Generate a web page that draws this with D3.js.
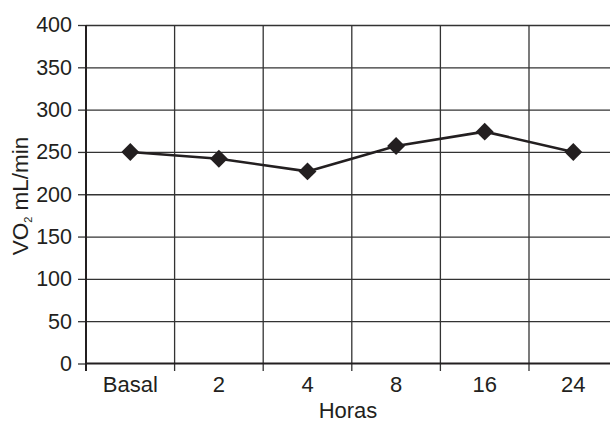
<!DOCTYPE html>
<html>
<head>
<meta charset="utf-8">
<script src="https://cdn.jsdelivr.net/npm/d3@7"></script>
<style>
  html, body { margin: 0; padding: 0; background: #fff; }
  svg { display: block; }
  text { font-family: "Liberation Sans", Arial, Helvetica, sans-serif; fill: #231f20; }
</style>
</head>
<body>
<svg id="chart" width="610" height="422"></svg>
<script>
const categories = ["Basal", "2", "4", "8", "16", "24"];
const vo2Values = [250, 242, 227, 257, 274, 250];
const yTickValues = [0, 50, 100, 150, 200, 250, 300, 350, 400];
const xTitle = "Horas";

const W = 610, H = 422;
const plotLeft = 86, plotTop = 25, plotBottom = 363.5, bandW = 88.6;
const ink = "#231f20";

const svg = d3.select("#chart");

const x = d3.scaleBand().domain(categories).range([plotLeft, plotLeft + bandW * categories.length]).padding(0);
const y = d3.scaleLinear().domain([0, 400]).range([plotBottom, plotTop]);

// horizontal gridlines
svg.append("g")
  .attr("transform", `translate(${plotLeft},0)`)
  .call(d3.axisLeft(y).tickValues(yTickValues.filter(v => v > 0)).tickSize(-(W - plotLeft)).tickFormat(""))
  .call(g => g.select(".domain").remove())
  .call(g => g.selectAll("line").attr("stroke", "#333").attr("stroke-width", 1.3));

// vertical category separators (extending below as ticks)
svg.append("g")
  .selectAll("line")
  .data(categories.slice(1))
  .join("line")
  .attr("x1", d => x(d)).attr("x2", d => x(d))
  .attr("y1", y(400)).attr("y2", y(0) + 7.5)
  .attr("stroke", "#333").attr("stroke-width", 1.3);

// y axis with ticks and labels
svg.append("g")
  .attr("transform", `translate(${plotLeft},0)`)
  .call(d3.axisLeft(y).tickValues(yTickValues).tickSize(8).tickPadding(6))
  .call(g => g.select(".domain").remove())
  .call(g => g.selectAll("line").attr("stroke", "#333").attr("stroke-width", 1.3))
  .call(g => g.selectAll("text").attr("font-size", 21.5).attr("fill", ink)
    .style("font-family", '"Liberation Sans", Arial, sans-serif'));

// left axis line
svg.append("line")
  .attr("x1", plotLeft).attr("x2", plotLeft)
  .attr("y1", y(400)).attr("y2", y(0) + 7.5)
  .attr("stroke", ink).attr("stroke-width", 2);

// zero line
svg.append("line")
  .attr("x1", plotLeft).attr("x2", W)
  .attr("y1", y(0)).attr("y2", y(0))
  .attr("stroke", ink).attr("stroke-width", 2.2);

// x axis labels
svg.append("g")
  .attr("transform", `translate(0,${y(0)})`)
  .call(d3.axisBottom(x).tickSize(0).tickPadding(13))
  .call(g => g.select(".domain").remove())
  .call(g => g.selectAll("text").attr("font-size", 22).attr("fill", ink)
    .style("font-family", '"Liberation Sans", Arial, sans-serif'));

// x title
svg.append("text")
  .attr("x", 348).attr("y", 418)
  .attr("text-anchor", "middle")
  .attr("font-size", 22)
  .text(xTitle);

// y title
const yt = svg.append("text")
  .attr("transform", "translate(28,196) rotate(-90)")
  .attr("text-anchor", "middle")
  .attr("font-size", 22.5);
yt.append("tspan").text("VO");
yt.append("tspan").attr("font-size", 11).attr("dy", 4).text("2");
yt.append("tspan").attr("dy", -4).text(" mL/min");

// line
const cx = d => x(d) + x.bandwidth() / 2;
const rows = categories.map((c, i) => ({ c, v: vo2Values[i] }));
svg.append("path")
  .datum(rows)
  .attr("fill", "none")
  .attr("stroke", ink)
  .attr("stroke-width", 2.6)
  .attr("stroke-linejoin", "round")
  .attr("d", d3.line().x(d => cx(d.c)).y(d => y(d.v)));

// diamond markers
svg.append("g")
  .selectAll("path")
  .data(rows)
  .join("path")
  .attr("transform", d => `translate(${cx(d.c)},${y(d.v)}) rotate(45)`)
  .attr("d", d3.symbol().type(d3.symbolSquare).size(160))
  .attr("fill", ink);
</script>
</body>
</html>
